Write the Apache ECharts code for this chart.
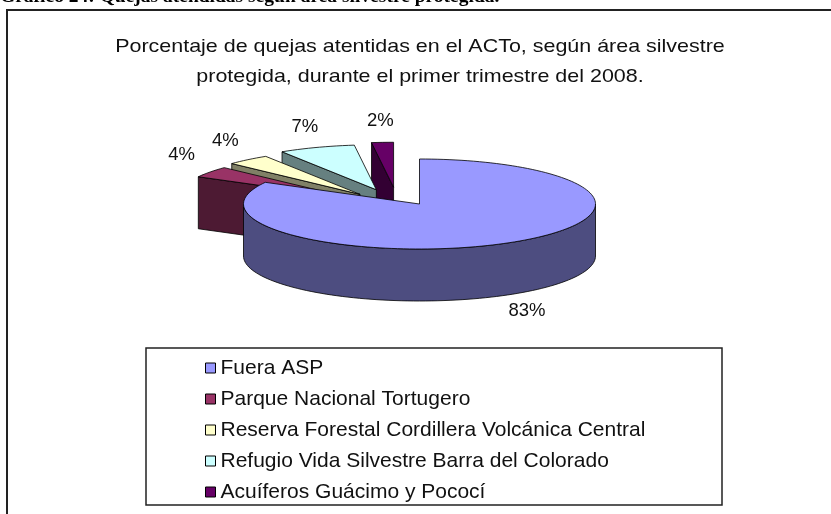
<!DOCTYPE html>
<html>
<head>
<meta charset="utf-8">
<script src="https://cdn.jsdelivr.net/npm/echarts@6/dist/echarts.min.js"></script>
<style>
  html, body { margin: 0; padding: 0; background: #fff; }
  #chart { width: 831px; height: 514px; }
</style>
</head>
<body>
<div id="chart"></div>
<script>
// data
const categories = [
    'Fuera ASP',
    'Parque Nacional Tortugero',
    'Reserva Forestal Cordillera Volcánica Central',
    'Refugio Vida Silvestre Barra del Colorado',
    'Acuíferos Guácimo y Pococí'
];
const values = [83, 4, 4, 7, 2];
const exploded = [0, 0.4, 0.4, 0.4, 0.4];

const topColors = ['#9999FF', '#993366', '#FFFFCC', '#CCFFFF', '#660066'];
const sideColors = ['#4D4D80', '#4D1A33', '#808066', '#668080', '#330033'];

// pseudo 3d pie geometry
const CX = 419.5, CY = 204, RX = 176, RY = 45, H = 52;
const EXPLODE_TURN = -18; // excel pulls slices a bit to the left
const FONT = '"Liberation Sans", Arial, sans-serif';

const total = values.reduce((a, b) => a + b, 0);
const startAngles = [];
let acc = 0;
values.forEach(v => { startAngles.push(acc / total * 360); acc += v; });

function rad(d) { return d * Math.PI / 180; }

function pt(deg, r, ox, oy, dy) {
    return [CX + ox + RX * r * Math.sin(rad(deg)), CY + oy - RY * r * Math.cos(rad(deg)) + (dy || 0)];
}

function arc(a, b, ox, oy, dy) {
    const pts = [];
    const n = Math.max(2, Math.ceil((b - a) / 2));
    for (let k = 0; k <= n; k++) {
        pts.push(pt(a + (b - a) * k / n, 1, ox, oy, dy));
    }
    return pts;
}

function renderSlice(i) {
    return function (params, api) {
        const a0 = startAngles[i];
        const a1 = a0 + api.value(0) / total * 360;
        const mid = (a0 + a1) / 2;
        const dir = mid + EXPLODE_TURN;
        const ox = RX * exploded[i] * Math.sin(rad(dir));
        const oy = -RY * exploded[i] * Math.cos(rad(dir));
        const c = [CX + ox, CY + oy];
        const line = { stroke: '#000', lineWidth: 0.8 };
        const children = [];

        // outer wall, front half only
        const s = Math.max(a0, 90), e = Math.min(a1, 270);
        if (s < e) {
            const pts = arc(s, e, ox, oy, 0).concat(arc(s, e, ox, oy, H).reverse());
            children.push({ type: 'polygon', shape: { points: pts }, style: Object.assign({ fill: sideColors[i] }, line) });
        }
        // radial walls facing the viewer
        [[a0, Math.sin(rad(a0)) < -1e-6], [a1, Math.sin(rad(a1)) > 1e-6]].forEach(([a, show]) => {
            if (!show) return;
            const p = pt(a, 1, ox, oy, 0);
            const pts = [c, p, [p[0], p[1] + H], [c[0], c[1] + H]];
            children.push({ type: 'polygon', shape: { points: pts }, style: Object.assign({ fill: sideColors[i] }, line) });
        });
        // top face
        children.push({
            type: 'polygon',
            shape: { points: [c].concat(arc(a0, a1, ox, oy, 0)) },
            style: Object.assign({ fill: topColors[i] }, line)
        });
        // label
        const front = Math.cos(rad(mid)) < 0;
        const lp = pt(mid, 1.2, ox, oy, front ? H + 8 : -12);
        children.push({
            type: 'text',
            x: lp[0], y: lp[1],
            style: {
                text: Math.round(api.value(0) / total * 100) + '%',
                fill: '#111',
                font: '18.5px ' + FONT,
                align: 'center',
                verticalAlign: 'middle'
            }
        });
        return { type: 'group', children: children };
    };
}

// back slices first
const order = values.map((v, i) => {
    const mid = startAngles[i] + v / total * 180;
    return { i: i, f: -Math.cos(rad(mid)) };
}).sort((a, b) => a.f - b.f).map(o => o.i);

const series = categories.map((name, i) => ({
    type: 'custom',
    name: name,
    coordinateSystem: 'none',
    z: 2 + order.indexOf(i),
    itemStyle: { color: topColors[i] },
    renderItem: renderSlice(i),
    data: [[values[i]]]
}));

const chart = echarts.init(document.getElementById('chart'), null, { renderer: 'canvas' });
chart.setOption({
    animation: false,
    backgroundColor: '#fff',
    graphic: [
        {
            type: 'text', left: 0, top: -13,
            style: {
                text: 'Gráfico 24: Quejas atendidas según área silvestre protegida.',
                fill: '#000',
                font: 'bold 19.5px "Liberation Serif", "Times New Roman", serif'
            }
        },
        {
            type: 'rect', shape: { x: 7, y: 10, width: 900, height: 600 },
            style: { fill: 'none', stroke: '#222', lineWidth: 2 }
        },
        {
            type: 'rect', shape: { x: 146, y: 348, width: 576, height: 157 },
            style: { fill: 'none', stroke: '#222', lineWidth: 1.5 }
        },
        {
            type: 'text', x: 420, y: 62, scaleX: 1.16,
            style: {
                text: 'Porcentaje de quejas atentidas en el ACTo, según área silvestre\nprotegida, durante el primer trimestre del 2008.',
                fill: '#111',
                font: '18.5px ' + FONT,
                lineHeight: 30,
                align: 'center',
                verticalAlign: 'middle'
            }
        }
    ],
    legend: {
        orient: 'vertical',
        left: 200,
        top: 352,
        itemWidth: 10,
        itemHeight: 10,
        itemGap: 9,
        icon: 'rect',
        selectedMode: false,
        data: categories.map((name, i) => ({
            name: name,
            itemStyle: { color: topColors[i], borderColor: '#000', borderWidth: 1 }
        })),
        textStyle: {
            fontSize: 21,
            lineHeight: 22,
            fontFamily: FONT,
            color: '#111'
        }
    },
    series: series
});
</script>
</body>
</html>
